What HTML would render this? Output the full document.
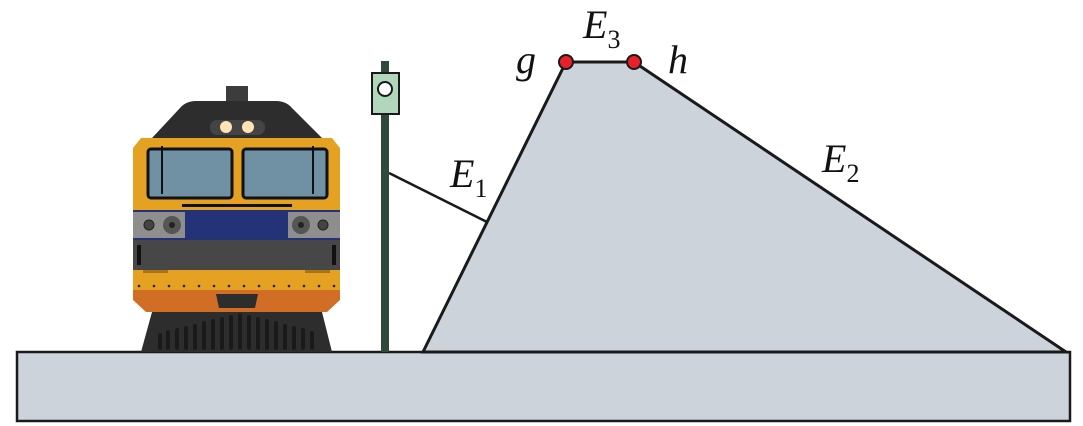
<!DOCTYPE html>
<html><head><style>body{margin:0;background:#fff}svg{display:block}</style></head><body>
<svg width="1083" height="426" viewBox="0 0 1083 426" xmlns="http://www.w3.org/2000/svg">
<rect x="17" y="352" width="1053" height="69" fill="#cdd3db" stroke="#1a1a1a" stroke-width="2.5"/>
<polygon points="423,352 566,62 634,62 1066,352" fill="#cdd3db" stroke="#1a1a1a" stroke-width="3"/>
<line x1="389" y1="173" x2="487" y2="222" stroke="#1a1a1a" stroke-width="2.5"/>
<rect x="381" y="61" width="8" height="291" fill="#2f4a3a"/>
<rect x="372" y="73" width="27" height="41" fill="#b0d7bc" stroke="#1a1a1a" stroke-width="2"/>
<circle cx="385" cy="89" r="7" fill="#fff" stroke="#1a1a1a" stroke-width="2"/>
<circle cx="566" cy="62" r="7" fill="#e8202a" stroke="#1a1a1a" stroke-width="2"/>
<circle cx="634" cy="62" r="7" fill="#e8202a" stroke="#1a1a1a" stroke-width="2"/>
<g font-family="Liberation Serif, serif" font-style="italic" font-size="40" fill="#111">
<text x="516" y="73">g</text>
<text x="668" y="73">h</text>
<text x="583" y="38">E<tspan font-style="normal" font-size="26" dy="10">3</tspan></text>
<text x="450" y="187">E<tspan font-style="normal" font-size="26" dy="10">1</tspan></text>
<text x="822" y="172">E<tspan font-style="normal" font-size="26" dy="10">2</tspan></text>
</g>
<!-- train -->
<rect x="226" y="86" width="22" height="18" fill="#3c3c3c"/>
<path d="M152,138 L180,108 Q186,101 196,101 L276,101 Q286,101 292,108 L322,138 Z" fill="#2d2d2d"/>
<rect x="210" y="120" width="55" height="15" rx="7" fill="#444"/>
<circle cx="226" cy="127" r="6" fill="#fde3b5"/><circle cx="248" cy="127" r="6" fill="#fde3b5"/>
<path d="M141,138 L332,138 L340,148 L340,290 L133,290 L133,148 Z" fill="#e5a122"/>
<path d="M133,290 L340,290 L340,300 L327,312 L146,312 L133,300 Z" fill="#d26d26"/>
<rect x="148" y="149" width="84" height="49" rx="3" fill="#6f91a3" stroke="#111" stroke-width="3"/>
<rect x="243" y="149" width="84" height="49" rx="3" fill="#6f91a3" stroke="#111" stroke-width="3"/>
<line x1="162" y1="146" x2="162" y2="194" stroke="#111" stroke-width="2"/>
<line x1="313" y1="146" x2="313" y2="194" stroke="#111" stroke-width="2"/>
<rect x="182" y="204" width="110" height="3" fill="#111"/>
<rect x="133" y="210" width="207" height="30" fill="#243278"/>
<rect x="133" y="212" width="52" height="26" fill="#8e8e8e"/>
<rect x="288" y="212" width="52" height="26" fill="#8e8e8e"/>
<circle cx="149" cy="225" r="5" fill="#444" stroke="#222"/><circle cx="172" cy="225" r="9" fill="#555"/><circle cx="172" cy="225" r="3" fill="#222"/>
<circle cx="323" cy="225" r="5" fill="#444" stroke="#222"/><circle cx="301" cy="225" r="9" fill="#555"/><circle cx="301" cy="225" r="3" fill="#222"/>
<rect x="133" y="240" width="207" height="30" fill="#474747"/>
<rect x="137" y="245" width="4" height="20" fill="#111"/><rect x="332" y="245" width="4" height="20" fill="#111"/>
<rect x="143" y="270" width="25" height="3" fill="#a8741a"/><rect x="305" y="270" width="25" height="3" fill="#a8741a"/>
<g fill="#222"><circle cx="139" cy="286" r="1.3"/><circle cx="154" cy="286" r="1.3"/><circle cx="169" cy="286" r="1.3"/><circle cx="184" cy="286" r="1.3"/><circle cx="199" cy="286" r="1.3"/><circle cx="214" cy="286" r="1.3"/><circle cx="229" cy="286" r="1.3"/><circle cx="244" cy="286" r="1.3"/><circle cx="259" cy="286" r="1.3"/><circle cx="274" cy="286" r="1.3"/><circle cx="289" cy="286" r="1.3"/><circle cx="304" cy="286" r="1.3"/><circle cx="319" cy="286" r="1.3"/><circle cx="334" cy="286" r="1.3"/></g>
<path d="M216,294 L258,294 L255,308 L219,308 Z" fill="#2d2d2d"/>
<path d="M152,312 L322,312 L332,352 L141,352 Z" fill="#2d2d2d"/>
<g stroke="#1a1a1a" stroke-width="4" stroke-linecap="round">
<line x1="160" y1="335" x2="160" y2="348"/><line x1="168" y1="332" x2="168" y2="348"/><line x1="177" y1="330" x2="177" y2="348"/><line x1="186" y1="328" x2="186" y2="348"/><line x1="195" y1="326" x2="195" y2="348"/><line x1="204" y1="323" x2="204" y2="348"/><line x1="213" y1="321" x2="213" y2="348"/><line x1="222" y1="319" x2="222" y2="348"/><line x1="231" y1="317" x2="231" y2="348"/><line x1="240" y1="315" x2="240" y2="348"/><line x1="249" y1="317" x2="249" y2="348"/><line x1="258" y1="319" x2="258" y2="348"/><line x1="267" y1="321" x2="267" y2="348"/><line x1="276" y1="323" x2="276" y2="348"/><line x1="285" y1="326" x2="285" y2="348"/><line x1="294" y1="328" x2="294" y2="348"/><line x1="303" y1="330" x2="303" y2="348"/><line x1="312" y1="333" x2="312" y2="348"/>
</g>
</svg>
</body></html>
